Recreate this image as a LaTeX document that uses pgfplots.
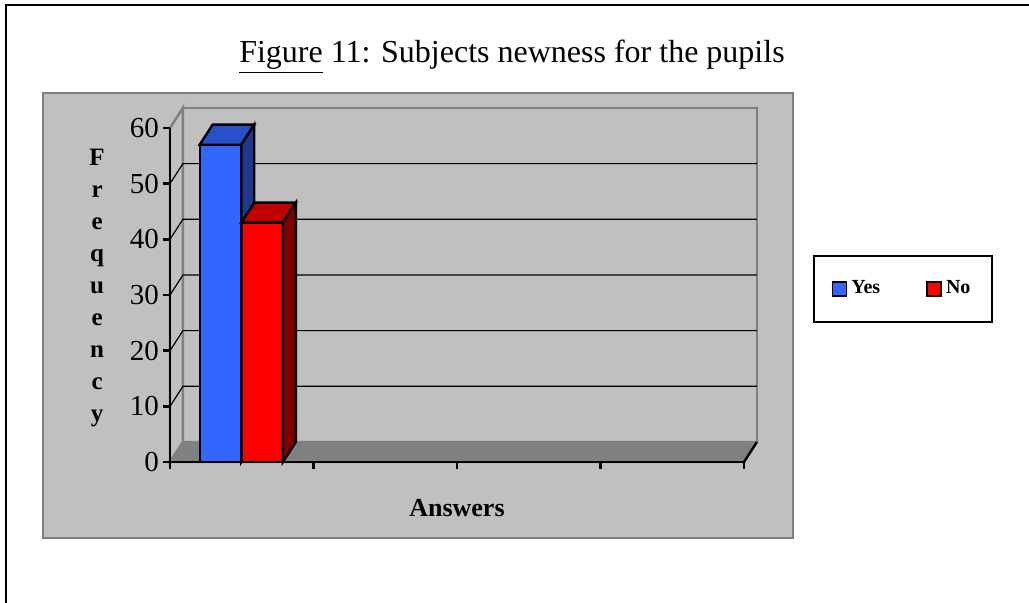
\documentclass[border=0pt]{standalone}
\usepackage{pgfplots}
\pgfplotsset{compat=1.18}
\usepackage{fontspec}
\setmainfont{Liberation Serif}
\definecolor{chartbg}{HTML}{C0C0C0}
\definecolor{edgegray}{HTML}{808080}
\definecolor{bluefront}{HTML}{3366FF}
\definecolor{bluetop}{HTML}{2850C8}
\definecolor{blueside}{HTML}{1F3A8C}
\definecolor{redfront}{HTML}{FF0000}
\definecolor{redtop}{HTML}{C00000}
\definecolor{redside}{HTML}{800000}
\begin{document}
\begin{tikzpicture}
\useasboundingbox (0,0) rectangle (514.5pt,-301pt);
% outer frame
\draw[line width=1pt] (3pt,-305pt) -- (3pt,-2.5pt) -- (520pt,-2.5pt);
% title
\node[font=\fontsize{16}{18}\selectfont] at (256pt,-28.5pt) {\underline{Figure} 11: Subjects newness for the pupils};
% chart area
\draw[fill=chartbg, draw=edgegray, line width=1.2pt] (21.5pt,-46.5pt) rectangle (396.5pt,-269pt);
\begin{axis}[
  at={(85pt,-231pt)}, anchor=origin,
  x=71.75pt, y=2.78333pt,
  xmin=0, xmax=4, ymin=0, ymax=60,
  clip=false, axis on top=true,
  axis x line*=bottom, axis y line*=left,
  axis line style={black, line width=1.2pt},
  xtick={0,1,2,3,4}, xticklabels={,,,,},
  ytick={0,10,...,60},
  tick align=outside, major tick length=3.5pt,
  every tick/.style={black, line width=1.2pt},
  /pgf/number format/assume math mode=true,
  yticklabel style={font=\fontsize{14.5}{16}\selectfont, xshift=1.5pt},
  xlabel={Answers},
  xlabel style={font=\bfseries\fontsize{13}{15}\selectfont, at={(axis description cs:0.5,-0.138)}, anchor=center},
  ylabel={F\\r\\e\\q\\u\\e\\n\\c\\y},
  ylabel style={rotate=-90, align=center, font=\bfseries\fontsize{12.5}{16}\selectfont, at={(axis description cs:-0.127,0.52)}, anchor=center},
  legend columns=2,
  legend style={at={(axis description cs:1.277,0.519)}, anchor=center, draw=black, line width=1pt,
    font=\bfseries\fontsize{10}{12}\selectfont, inner xsep=9pt, inner ysep=10.5pt,
    /tikz/every even column/.append style={column sep=21pt}},
  legend image code/.code={\draw[#1, draw=black, line width=0.9pt] (0pt,-3.5pt) rectangle (7pt,3.5pt);},
]
% back wall
\addplot[forget plot, fill=chartbg, draw=edgegray, line width=1.2pt] coordinates {(0.09,3.6) (4.09,3.6) (4.09,63.6) (0.09,63.6)} -- cycle;
% left wall
\addplot[forget plot, fill=chartbg, draw=edgegray, line width=1.2pt] coordinates {(0,0) (0.09,3.6) (0.09,63.6) (0,60)} -- cycle;
% floor
\addplot[forget plot, fill=edgegray, draw=edgegray, line width=1pt] coordinates {(0,0) (4,0) (4.09,3.6) (0.09,3.6)} -- cycle;
\addplot[forget plot, black, line width=1.2pt] coordinates {(4,0) (4.09,3.6)};
% gridlines
\addplot[forget plot, black, line width=0.6pt] coordinates {(0,10) (0.09,13.6) (4.09,13.6)};
\addplot[forget plot, black, line width=0.6pt] coordinates {(0,20) (0.09,23.6) (4.09,23.6)};
\addplot[forget plot, black, line width=0.6pt] coordinates {(0,30) (0.09,33.6) (4.09,33.6)};
\addplot[forget plot, black, line width=0.6pt] coordinates {(0,40) (0.09,43.6) (4.09,43.6)};
\addplot[forget plot, black, line width=0.6pt] coordinates {(0,50) (0.09,53.6) (4.09,53.6)};
\addplot[forget plot, edgegray, line width=1pt] coordinates {(0,60) (0.09,63.6)};
% Yes bar
\addplot[ybar, bar width=0.29, bar shift=0pt, fill=bluefront, draw=black, line width=1.2pt] coordinates {(0.352,57)};
\addplot[forget plot, fill=bluetop, draw=black, line width=1.2pt] coordinates {(0.207,57) (0.497,57) (0.587,60.6) (0.297,60.6)} -- cycle;
\addplot[forget plot, fill=blueside, draw=black, line width=1.2pt] coordinates {(0.497,0) (0.587,3.6) (0.587,60.6) (0.497,57)} -- cycle;
% No bar
\addplot[ybar, bar width=0.29, bar shift=0pt, fill=redfront, draw=black, line width=1.2pt] coordinates {(0.642,43)};
\addplot[forget plot, fill=redtop, draw=black, line width=1.2pt] coordinates {(0.497,43) (0.787,43) (0.877,46.6) (0.587,46.6)} -- cycle;
\addplot[forget plot, fill=redside, draw=black, line width=1.2pt] coordinates {(0.787,0) (0.877,3.6) (0.877,46.6) (0.787,43)} -- cycle;
\legend{Yes,No}
\end{axis}
\end{tikzpicture}
\end{document}
